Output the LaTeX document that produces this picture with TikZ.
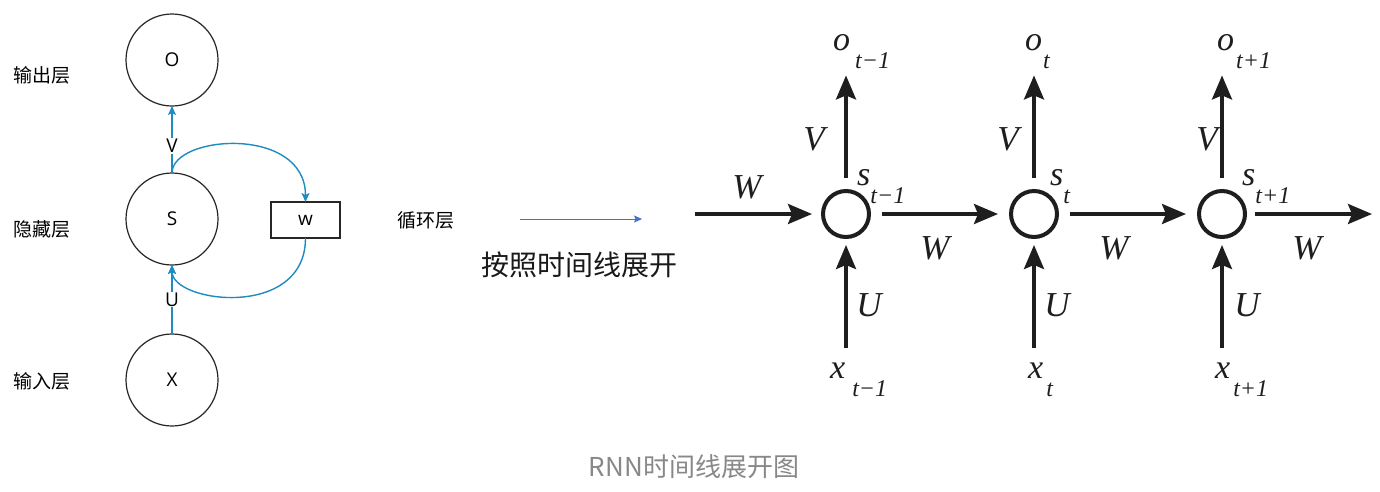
\documentclass[tikz,border=0pt]{standalone}
\usepackage{fontspec}
\setmainfont{Liberation Serif}
\newfontfamily\cjk{Noto Sans CJK SC}
\newfontfamily\lsans{Open Sans}
\usetikzlibrary{arrows.meta}
\definecolor{lblue}{RGB}{30,140,192}
\definecolor{mblue}{RGB}{68,114,196}
\definecolor{ink}{RGB}{30,30,30}
\definecolor{capgray}{RGB}{136,136,136}
\newcommand{\rl}[3]{\fontsize{34}{34}\selectfont\itshape #1\hspace{#2}\raisebox{-18pt}{\fontsize{24}{24}\selectfont #3}}
\begin{document}
\begin{tikzpicture}[x=1pt,y=-1pt,
  bigc/.style={circle,draw=black!85,line width=1.2pt,minimum size=92pt,inner sep=0pt,outer sep=0pt,font=\lsans\fontsize{19}{19}\selectfont},
  wbox/.style={draw=black!85,line width=1.2pt,minimum width=69pt,minimum height=36pt,inner sep=0pt,outer sep=0pt,font=\lsans\fontsize{19}{19}\selectfont},
  cjklbl/.style={font=\cjk\fontsize{19}{19}\selectfont,text=black,inner sep=0pt},
  lfont/.style={font=\lsans\fontsize{19}{19}\selectfont,fill=white,inner sep=1pt},
  barrow/.style={draw=lblue,line width=1.4pt,-{Stealth[length=9pt,width=8pt,inset=2pt]}},
  marrow/.style={draw=mblue,line width=0.9pt,-{Stealth[length=8pt,width=7pt,inset=1.5pt]}},
  sc/.style={circle,draw=ink,line width=4pt,minimum size=46pt,inner sep=0pt,outer sep=0pt},
  karrow/.style={draw=ink,line width=3.5pt,-{Stealth[length=24pt,width=20pt,inset=4pt]}},
  rlab/.style={anchor=base west,inner sep=0pt,text=ink},
  wlab/.style={inner sep=0pt,text=ink,font=\fontsize{35}{35}\selectfont\itshape}
]
\useasboundingbox (0,0) rectangle (1380,491);
\fill[white] (0,0) rectangle (1380,491);

% ---------- left part ----------
\node[bigc] (O) at (172,60) {O};
\node[bigc] (S) at (172,219) {S};
\node[bigc] (X) at (172,380) {X};
\node[wbox] (w) at (305.5,220) {w};
\node[cjklbl] (l1) at (42,75) {输出层};
\node[cjklbl] (l2) at (42,229) {隐藏层};
\node[cjklbl] (l3) at (42,381) {输入层};
\node[cjklbl] (l4) at (426,220) {循环层};

\draw[barrow] (S.north) .. controls +(0,-38) and +(0,-77) .. (w.north);
\draw[barrow] (w.south) .. controls +(0,82) and +(0,38) .. (S.south);
\draw[barrow] (S) -- node[pos=0.4,lfont]{V} (O);
\draw[barrow] (X) -- node[pos=0.5,lfont]{U} (S);

% ---------- middle ----------
\coordinate (ma) at (520,219);
\coordinate (mb) at (642,219);
\draw[marrow] (ma) -- (mb);
\node[font=\cjk\fontsize{28}{28}\selectfont,text=black!90,inner sep=0pt] (title) at (579,265) {按照时间线展开};
\node[font=\cjk\fontsize{26}{26}\selectfont,text=capgray,inner sep=0pt] (cap) at (694,467) {RNN时间线展开图};

% ---------- right part ----------
\node[sc] (sc1) at (846,214) {};
\node[sc] (sc2) at (1034,214) {};
\node[sc] (sc3) at (1222,214) {};

\node[rlab] (o1) at (833,50) {\rl{o}{5pt}{t−1}};
\node[rlab] (o2) at (1025,50) {\rl{o}{1pt}{t}};
\node[rlab] (o3) at (1217,50) {\rl{o}{2pt}{t+1}};
\node[rlab] (s1) at (857,185) {\rl{s}{0pt}{t−1}};
\node[rlab] (s2) at (1050,185) {\rl{s}{0pt}{t}};
\node[rlab] (s3) at (1242,185) {\rl{s}{0pt}{t+1}};
\node[rlab] (x1) at (830,378) {\rl{x}{7pt}{t−1}};
\node[rlab] (x2) at (1028,378) {\rl{x}{3pt}{t}};
\node[rlab] (x3) at (1215,378) {\rl{x}{3pt}{t+1}};

\node[wlab] (v1) at (814,139) {V};
\node[wlab] (v2) at (1008,139) {V};
\node[wlab] (v3) at (1207,139) {V};
\node[wlab] (u1) at (869,305) {U};
\node[wlab] (u2) at (1057,305) {U};
\node[wlab] (u3) at (1247,305) {U};
\node[wlab] (w0) at (747,187) {W};
\node[wlab] (w1) at (935,248) {W};
\node[wlab] (w2) at (1114,248) {W};
\node[wlab] (w3) at (1307,248) {W};

\coordinate (win) at (695,214);
\coordinate (wout) at (1372,214);
\draw[karrow,shorten >=11pt] (win) -- (sc1);
\draw[karrow,shorten <=13pt,shorten >=13pt] (sc1) -- (sc2);
\draw[karrow,shorten <=13pt,shorten >=13pt] (sc2) -- (sc3);
\draw[karrow,shorten <=10pt] (sc3) -- (wout);

\draw[karrow,shorten <=13pt,shorten >=7pt] (sc1) -- (sc1 |- o1.south);
\draw[karrow,shorten <=13pt,shorten >=7pt] (sc2) -- (sc2 |- o2.south);
\draw[karrow,shorten <=13pt,shorten >=7pt] (sc3) -- (sc3 |- o3.south);
\draw[karrow,shorten <=14pt,shorten >=8pt] (sc1 |- x1.north) -- (sc1);
\draw[karrow,shorten <=14pt,shorten >=8pt] (sc2 |- x2.north) -- (sc2);
\draw[karrow,shorten <=14pt,shorten >=8pt] (sc3 |- x3.north) -- (sc3);
\end{tikzpicture}
\end{document}
